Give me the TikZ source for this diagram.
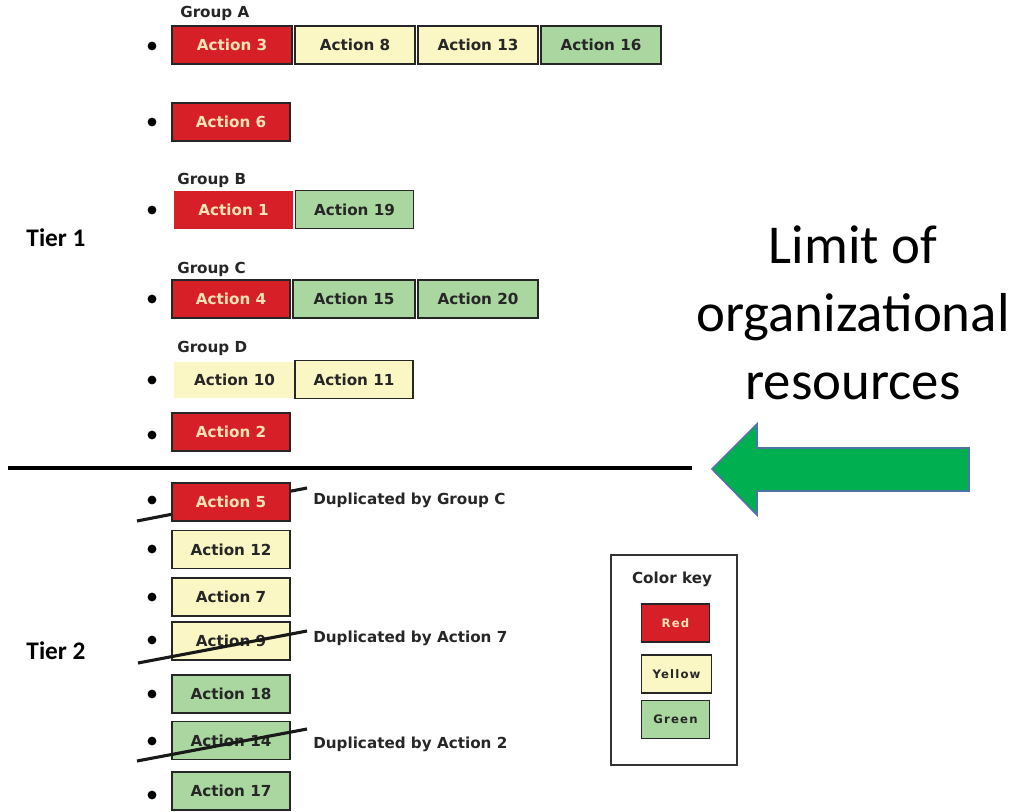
\documentclass[tikz,border=0pt]{standalone}
\usepackage{fontspec}
\setmainfont{DejaVu Sans}
\newfontfamily\calfont{Carlito}
\usepackage{tikz}
\definecolor{actred}{RGB}{214,31,39}
\definecolor{actyellow}{RGB}{250,247,196}
\definecolor{actgreen}{RGB}{170,215,160}
\definecolor{redtext}{RGB}{250,228,182}
\definecolor{arrowgreen}{RGB}{0,175,80}
\definecolor{arrowedge}{RGB}{80,115,165}
\tikzset{every picture/.style={x=0.025cm, y=-0.025cm}}
\tikzset{act/.style={rectangle, draw=black!85, line width=1.2pt, minimum width=2.95cm, minimum height=0.95cm, inner sep=0pt, font=\fontsize{10.8}{12}\selectfont\bfseries}}
\tikzset{redbox/.style={act, fill=actred, text=redtext}}
\tikzset{yellowbox/.style={act, fill=actyellow, text=black!85}}
\tikzset{greenbox/.style={act, fill=actgreen, text=black!85}}
\tikzset{nobox/.style={draw=none}}
\tikzset{label/.style={anchor=west, inner sep=0pt, text=black!85, font=\fontsize{10.8}{12}\selectfont\bfseries}}
\tikzset{tier/.style={inner sep=0pt, font=\calfont\fontsize{18}{20}\selectfont\bfseries}}
\tikzset{keybox/.style={minimum width=1.7cm, font=\fontsize{8.3}{9}\selectfont\bfseries\addfontfeature{LetterSpace=10}}}
\tikzset{strike/.style={line width=2.2pt, black!90}}

\begin{document}
\begin{tikzpicture}
\useasboundingbox (0,0) rectangle (1013,811);
% bullets
\foreach \y in {46,122,210,299,380,435,500,549,597,640,694,741,795}
  \fill (152,\y) circle (0.11cm);
% tier 1
\node[tier] (t1) at (56,238) {Tier 1};
\node[label] (ga) at (180,13) {Group A};
\node[redbox, minimum width=3cm] (a3) at (232,45) {Action 3};
\node[yellowbox, minimum width=3cm] (a8) at (355,45) {Action 8};
\node[yellowbox, minimum width=3cm] (a13) at (478,45) {Action 13};
\node[greenbox, minimum width=3cm] (a16) at (601,45) {Action 16};
\node[redbox] (a6) at (231,122) {Action 6};
\node[label] (gb) at (177,180) {Group B};
\node[redbox, nobox] (a1) at (233.5,209.5) {Action 1};
\node[greenbox] (a19) at (354.5,209.5) {Action 19};
\node[label] (gc) at (177,269) {Group C};
\node[redbox] (a4) at (231,299) {Action 4};
\node[greenbox, minimum width=3.05cm] (a15) at (354,299) {Action 15};
\node[greenbox, minimum width=3cm] (a20) at (478,299) {Action 20};
\node[label] (gd) at (177,348) {Group D};
\node[yellowbox, nobox, minimum width=3.025cm, minimum height=0.9cm] (a10) at (234.5,380) {Action 10};
\node[yellowbox] (a11) at (354,379.5) {Action 11};
\node[redbox] (a2) at (231,432) {Action 2};
% limit line and arrow
\draw[line width=2.2pt] (8,468) -- (692,468);
\draw[arrowedge, fill=arrowgreen, line width=1.2pt] (712,469) -- (757,424) -- (757,448) -- (969,448)
  -- (969,491) -- (757,491) -- (757,515) -- cycle;
\node[font=\calfont\fontsize{39}{48.5}\selectfont, align=center] (limit) at (853,313) {Limit of\\organizational\\resources};
% tier 2 (the first strike goes under its box)
\node[tier] (t2) at (56,651) {Tier 2};
\draw[strike] (137,521) -- (307,488);
\node[redbox] (a5) at (231,502) {Action 5};
\node[yellowbox] (a12) at (231,549.5) {Action 12};
\node[yellowbox] (a7) at (231,597) {Action 7};
\node[yellowbox] (a9) at (231,641) {Action 9};
\node[greenbox] (a18) at (231,694) {Action 18};
\node[greenbox] (a14) at (231,740.5) {Action 14};
\node[greenbox] (a17) at (231,791) {Action 17};
\draw[strike] (138,663) -- (307,631);
\draw[strike] (137,761) -- (307,729);
\node[label] (d5) at (313,500) {Duplicated by Group C};
\node[label] (d9) at (313,638) {Duplicated by Action 7};
\node[label] (d14) at (313,744) {Duplicated by Action 2};
% color key
\node[draw=black!80, line width=1pt, minimum width=3.15cm, minimum height=5.25cm, inner sep=0pt] (key) at (674,660) {};
\node[label, anchor=center] (keyt) at (672,579) {Color key};
\node[redbox, keybox] (kr) at (675.5,623) {Red};
\node[yellowbox, keybox, minimum width=1.75cm] (ky) at (676.5,674) {Yellow};
\node[greenbox, keybox] (kg) at (675.5,719.5) {Green};
\end{tikzpicture}
\end{document}
